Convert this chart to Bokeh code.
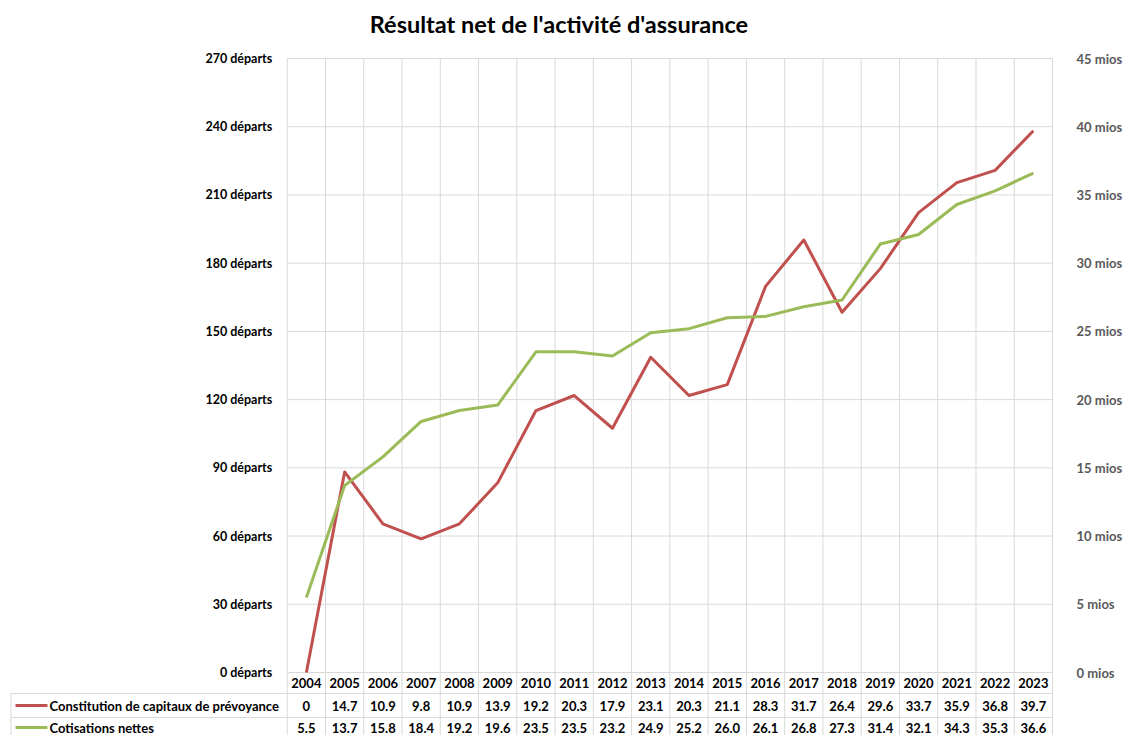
from bokeh.plotting import figure
from bokeh.models import Range1d, LinearAxis, FixedTicker, PrintfTickFormatter
from bokeh.core.properties import value
from bokeh.embed import file_html
from bokeh.resources import INLINE

# ---------------- data ----------------
years = [2004, 2005, 2006, 2007, 2008, 2009, 2010, 2011, 2012, 2013,
         2014, 2015, 2016, 2017, 2018, 2019, 2020, 2021, 2022, 2023]
capitaux = [0, 14.7, 10.9, 9.8, 10.9, 13.9, 19.2, 20.3, 17.9, 23.1,
            20.3, 21.1, 28.3, 31.7, 26.4, 29.6, 33.7, 35.9, 36.8, 39.7]
cotisations = [5.5, 13.7, 15.8, 18.4, 19.2, 19.6, 23.5, 23.5, 23.2, 24.9,
               25.2, 26.0, 26.1, 26.8, 27.3, 31.4, 32.1, 34.3, 35.3, 36.6]
series_names = ["Constitution de capitaux de prévoyance", "Cotisations nettes"]
left_ticks = [0, 30, 60, 90, 120, 150, 180, 210, 240, 270]
right_ticks = [0, 5, 10, 15, 20, 25, 30, 35, 40, 45]
title_text = "Résultat net de l'activité d'assurance"

# ---------------- styles / layout (pixels) ----------------
FONT = value("Lato")
RED = "#C0504D"
GREEN = "#9BBB59"
GRID = "#d9d9d9"
W, H = 1125, 735
FR_L, FR_R = 9, 1054            # frame edges (screen)
PL_L, PL_R = 287, 1053          # plot area edges
PL_T, ZERO_Y = 58, 672          # plot area top / zero line
HEAD_B, ROW_SEP = 693, 717      # table lines
TAB_L = 10.5                    # table left border
n = len(years)
col_w = (PL_R - PL_L) / n
px_per = (ZERO_Y - PL_T) / right_ticks[-1]
ratio = left_ticks[-1] / right_ticks[-1]


def X(s):   # screen x -> data x
    return (s - PL_L) / col_w - 0.5


def Y(s):   # screen y -> data y (mios)
    return (ZERO_Y - s) / px_per


idx = list(range(n))
bounds = [i - 0.5 for i in range(n + 1)]

p = figure(width=W, height=H, min_border_left=FR_L, min_border_right=W - FR_R,
           min_border_top=0, min_border_bottom=0,
           x_range=Range1d(X(FR_L), X(FR_R)), y_range=Range1d(Y(H), Y(0)),
           x_axis_location=None, y_axis_location=None,
           output_backend="svg", toolbar_location=None)
p.extra_y_ranges = {"dep": Range1d(Y(H) * ratio, Y(0) * ratio)}
p.outline_line_color = None
p.background_fill_color = "white"
p.border_fill_color = "white"
p.xgrid.visible = False
p.ygrid.visible = False

# grid / table lines
p.segment(x0=[-0.5] * len(right_ticks), y0=right_ticks,
          x1=[n - 0.5] * len(right_ticks), y1=right_ticks,
          line_color=GRID, line_width=1)
p.segment(x0=bounds, y0=[right_ticks[-1]] * len(bounds),
          x1=bounds, y1=[Y(H)] * len(bounds), line_color=GRID, line_width=1)
p.segment(x0=[X(TAB_L)] * 2, y0=[Y(HEAD_B), Y(ROW_SEP)],
          x1=[n - 0.5] * 2, y1=[Y(HEAD_B), Y(ROW_SEP)],
          line_color=GRID, line_width=1)
p.segment(x0=[X(TAB_L)], y0=[Y(HEAD_B)], x1=[X(TAB_L)], y1=[Y(H)],
          line_color=GRID, line_width=1)

# right axis (real axis)
ra = LinearAxis(ticker=FixedTicker(ticks=right_ticks),
                formatter=PrintfTickFormatter(format="%d mios"))
ra.axis_line_color = None
ra.major_tick_line_color = None
ra.minor_tick_line_color = None
ra.major_tick_out = 0
ra.major_tick_in = 0
ra.major_label_standoff = 1077 - PL_R - (FR_R - PL_R)
ra.major_label_text_font = "Lato"
ra.major_label_text_font_size = "13px"
ra.major_label_text_font_style = "bold"
ra.major_label_text_color = "#595959"
p.add_layout(ra, "right")

# left tick labels (départs scale)
p.text(x=[X(272)] * len(left_ticks), y=left_ticks, y_range_name="dep",
       text=[f"{t} départs" for t in left_ticks],
       text_align="right", text_baseline="middle", text_font=FONT,
       text_font_size="12.5px", text_font_style="bold", text_color="black")

# series
p.line(idx, capitaux, line_color=RED, line_width=3, line_join="round")
p.line(idx, cotisations, line_color=GREEN, line_width=3, line_join="round")

# title
p.text(x=[X(559)], y=[Y(23)], text=[title_text], text_align="center",
       text_baseline="middle", text_font=FONT, text_font_size="23.5px",
       text_font_style="bold", text_color="black")

# data table
yh = Y((ZERO_Y + HEAD_B) / 2)
y1 = Y((HEAD_B + ROW_SEP) / 2)
y2 = Y(727)
p.text(x=idx, y=[yh] * n, text=[str(y) for y in years],
       text_align="center", text_baseline="middle", text_font=FONT,
       text_font_size="13px", text_font_style="bold", text_color="black")

p.segment(x0=[X(15)] * 2, y0=[y1, y2], x1=[X(47)] * 2, y1=[y1, y2],
          line_color=[RED, GREEN], line_width=3)
p.text(x=[X(49)] * 2, y=[y1, y2], text=series_names,
       text_align="left", text_baseline="middle", text_font=FONT,
       text_font_size="13px", text_font_style="bold", text_color="black")


def fmt(v):
    return "0" if v == 0 else f"{v:.1f}"


p.text(x=idx, y=[y1] * n, text=[fmt(v) for v in capitaux],
       text_align="center", text_baseline="middle", text_font=FONT,
       text_font_size="13px", text_font_style="bold", text_color="black")
p.text(x=idx, y=[y2] * n, text=[fmt(v) for v in cotisations],
       text_align="center", text_baseline="middle", text_font=FONT,
       text_font_size="13px", text_font_style="bold", text_color="black")

open("out.html", "w").write(file_html(p, INLINE))
